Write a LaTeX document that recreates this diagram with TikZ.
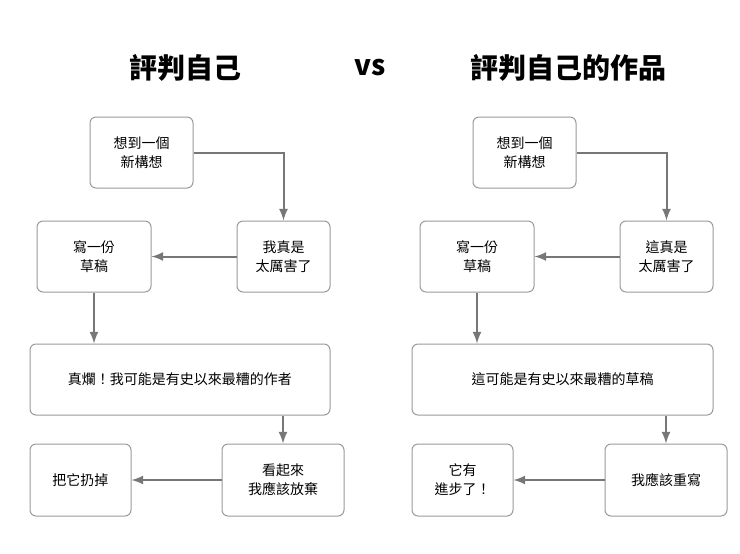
\documentclass[tikz,border=0pt]{standalone}
\usepackage{fontspec}
\setmainfont{Noto Sans CJK TC}
\usetikzlibrary{positioning,calc}
\definecolor{linegray}{HTML}{777777}
\definecolor{boxgray}{HTML}{9A9A9A}
\begin{document}
\begin{tikzpicture}[x=0.5pt,y=-0.5pt,
				block/.style={draw=boxgray,line width=0.5pt,rounded corners=3pt,align=center,font=\fontsize{7}{9.5}\selectfont,inner sep=0pt},
				title/.style={font=\fontsize{14}{16}\selectfont\bfseries},
				link/.style={draw=linegray,line width=1pt,-latex}]
				\useasboundingbox (0,0) rectangle (740,553);
				% left column
				\node[title] (T1) at (185,68) {評判自己};
				\node[title] (VS) at (370,68) {vs};
				\node[title] (T2) at (568,68) {評判自己的作品};
				\node[block,minimum width=51.5pt,minimum height=35.5pt] (A) at (141.5,152.5) {想到一個\\新構想};
				\node[block,minimum width=46.5pt,minimum height=35.5pt] (B) at (283.5,256.5) {我真是\\太厲害了};
				\node[block,minimum width=57pt,minimum height=35.5pt]   (C) at (94,256.5)    {寫一份\\草稿};
				\node[block,minimum width=150pt,minimum height=35.5pt]  (D) at (180,379.5)   {真爛！我可能是有史以來最糟的作者};
				\node[block,minimum width=61pt,minimum height=36pt]     (E) at (283,480)     {看起來\\我應該放棄};
				\node[block,minimum width=50.5pt,minimum height=36pt]   (F) at (80.5,480)    {把它扔掉};
				\draw[link] (A.east) -| (B.north);
				\draw[link] (B) -- (C);
				\draw[link] (C.south) -- (C.south |- D.north);
				\draw[link] (E.north |- D.south) -- (E.north);
				\draw[link] (E) -- (F);
				% right column
				\node[block,minimum width=51.5pt,minimum height=35.5pt] (A2) at (524.5,152.5) {想到一個\\新構想};
				\node[block,minimum width=46.5pt,minimum height=35.5pt] (B2) at (666.5,256.5) {這真是\\太厲害了};
				\node[block,minimum width=57pt,minimum height=35.5pt]   (C2) at (477,256.5)   {寫一份\\草稿};
				\node[block,minimum width=150.5pt,minimum height=35.5pt](D2) at (562.5,379.5) {這可能是有史以來最糟的草稿};
				\node[block,minimum width=61pt,minimum height=36pt]     (E2) at (666,480)     {我應該重寫};
				\node[block,minimum width=50.5pt,minimum height=36pt]   (F2) at (462.5,480)   {它有\\進步了！};
				\draw[link] (A2.east) -| (B2.north);
				\draw[link] (B2) -- (C2);
				\draw[link] (C2.south) -- (C2.south |- D2.north);
				\draw[link] (E2.north |- D2.south) -- (E2.north);
				\draw[link] (E2) -- (F2);
			\end{tikzpicture}
\end{document}
